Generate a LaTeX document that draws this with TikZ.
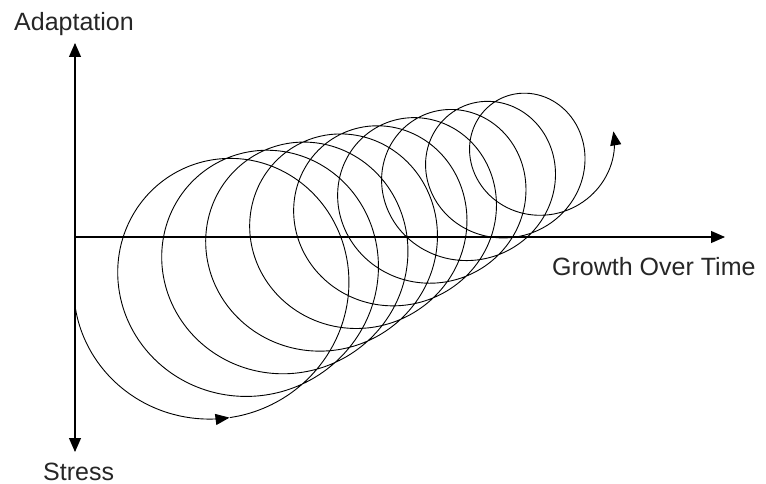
\documentclass[tikz,border=0pt]{standalone}
\usepackage{fontspec}
\setmainfont{Liberation Sans}
\usetikzlibrary{arrows.meta}
\begin{document}
\begin{tikzpicture}[x=1pt,y=-1pt,
  axis/.style={line width=1.1pt,-{Triangle[length=14pt,width=12pt]}},
  spiral/.style={line width=0.9pt},
  lbl/.style={inner sep=0pt,anchor=base west,font=\fontsize{25}{30}\selectfont,text=black!85}]
\useasboundingbox (0,0) rectangle (766,484);
\coordinate (O) at (75,237);
\coordinate (ytop) at (75,43);
\coordinate (ybot) at (75,452);
\coordinate (xend) at (725,237);
\draw[axis] (O) -- (ytop);
\draw[axis] (O) -- (ybot);
\draw[axis] (O) -- (xend);
\node[lbl] (adapt) at (14,31) {Adaptation};
\node[lbl] (growth) at (552,275) {Growth Over Time};
\node[lbl] (stress) at (43,480) {Stress};
\def\cx#1{(204+36.75*#1)}
\draw[spiral,-{Triangle[length=14pt,width=11pt]}] plot[smooth,domain=0.01:0.27,samples=40,variable=\t]
  ({204+36.75*\t+(130.1-7.25*\t)*cos(180+360*\t)},{294.6-15.4*\t-(130.1-7.25*\t)*sin(180+360*\t)});
\draw[spiral,-{Triangle[length=14pt,width=11pt]}] plot[smooth,domain=0.27:9.55,samples=900,variable=\t]
  ({204+36.75*\t+(130.1-7.25*\t)*cos(180+360*\t)},{294.6-15.4*\t-(130.1-7.25*\t)*sin(180+360*\t)});
\end{tikzpicture}
\end{document}
